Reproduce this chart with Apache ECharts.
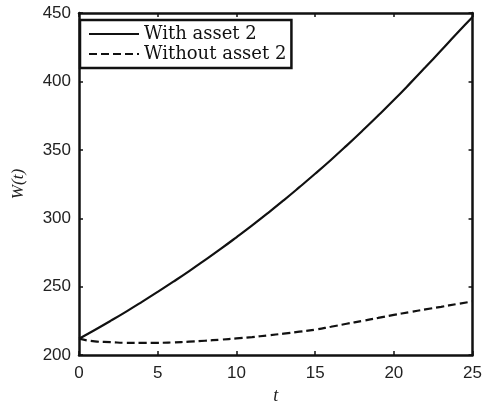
<!DOCTYPE html>
<html>
<head>
<meta charset="utf-8">
<script src="https://cdn.jsdelivr.net/npm/echarts@6/dist/echarts.min.js"></script>
<style>html,body{margin:0;padding:0;background:#fff}#c{width:485px;height:410px}</style>
</head>
<body>
<div id="c"></div>
<script>
var tValues = [0,1,2,3,4,5,6,7,8,9,10,11,12,13,14,15,16,17,18,19,20,21,22,23,24,25];
var withAsset2 = [212,218.4,225,231.8,238.9,246.2,253.7,261.4,269.4,277.6,286.1,294.8,303.8,313.1,322.7,332.5,342.6,353.1,363.9,375,386.4,398.2,410.3,422.6,435,447];
var withoutAsset2 = [212,210,209.5,209,209,209,209.3,209.8,210.5,211.3,212.2,213.2,214.4,215.7,217.1,218.6,220.7,222.9,225.0,227.2,229.4,231.4,233.4,235.3,237.3,239.2];
var seriesNames = ['With asset 2','Without asset 2'];
var xTicks = [0,5,10,15,20,25];
var yTicks = [200,250,300,350,400,450];

function pairs(xs, ys){ return xs.map(function(x,i){ return [x, ys[i]]; }); }

var chart = echarts.init(document.getElementById('c'), null, {renderer:'canvas'});
var axisLine = {show:true, onZero:false, lineStyle:{color:'#111', width:2.5}};
var tick = {show:true, inside:true, length:4, lineStyle:{color:'#111', width:1.5}};
chart.setOption({
  animation:false,
  backgroundColor:'#fff',
  grid:{left:79, right:12, top:13, bottom:46, containLabel:false},
  legend:{
    left:80, top:20,
    orient:'vertical',
    backgroundColor:'#fff',
    borderColor:'#111', borderWidth:2.5, borderRadius:0,
    padding:[5,5,5,8],
    itemWidth:50, itemHeight:14, itemGap:2,
    itemStyle:{opacity:0},
    textStyle:{fontFamily:'DejaVu Serif', fontSize:18, color:'#111', padding:[0,0,0,0]},
    data:seriesNames
  },
  xAxis:[{
    type:'value', min:0, max:25, interval:5,
    axisLine:axisLine, axisTick:tick, splitLine:{show:false},
    axisLabel:{color:'#222', fontFamily:'Liberation Sans', fontSize:17, margin:10},
    name:'t', nameLocation:'middle', nameGap:31,
    nameTextStyle:{fontFamily:'Liberation Serif', fontStyle:'italic', fontSize:18, color:'#222'}
  },{
    type:'value', position:'top', min:0, max:25, interval:5,
    axisLine:axisLine, axisTick:tick, axisLabel:{show:false}, splitLine:{show:false}
  }],
  yAxis:[{
    type:'value', min:200, max:450, interval:50,
    axisLine:axisLine, axisTick:tick, splitLine:{show:false},
    axisLabel:{color:'#222', fontFamily:'Liberation Sans', fontSize:17, margin:8},
    name:'W(t)', nameLocation:'middle', nameGap:52, nameRotate:90,
    nameTextStyle:{fontFamily:'Liberation Serif', fontStyle:'italic', fontSize:17, color:'#222'}
  },{
    type:'value', position:'right', min:200, max:450, interval:50,
    axisLine:axisLine, axisTick:tick, axisLabel:{show:false}, splitLine:{show:false}
  }],
  series:[{
    name:seriesNames[0], type:'line', symbol:'none', smooth:true,
    data:pairs(tValues, withAsset2),
    lineStyle:{color:'#111', width:2.2, type:'solid'},
    itemStyle:{color:'#111'}
  },{
    name:seriesNames[1], type:'line', symbol:'none', smooth:true,
    data:pairs(tValues, withoutAsset2),
    lineStyle:{color:'#111', width:2.2, type:[8,4]},
    itemStyle:{color:'#111'}
  }]
});
</script>
</body>
</html>
